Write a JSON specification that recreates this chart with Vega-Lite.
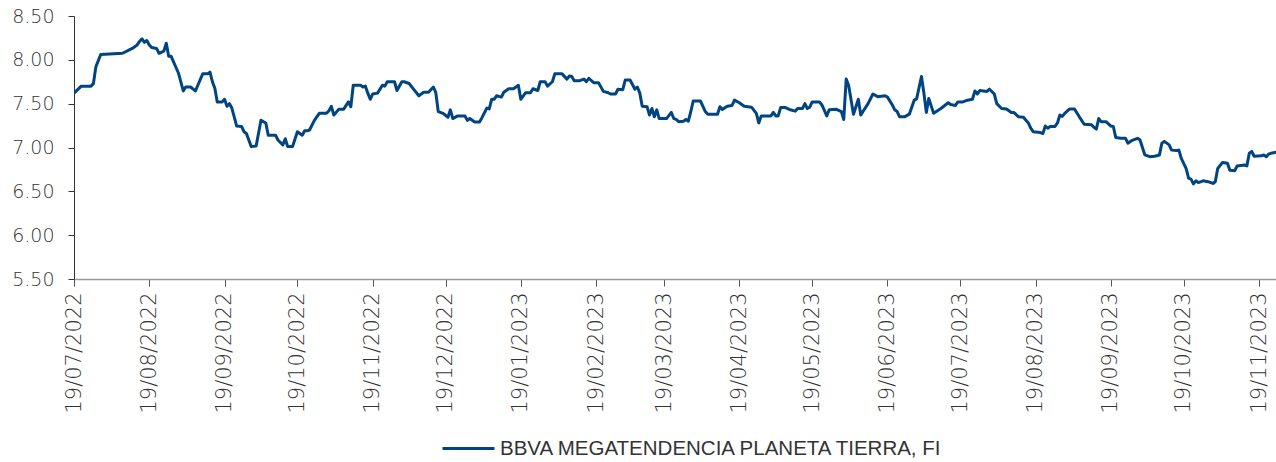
{
  "$schema": "https://vega.github.io/schema/vega-lite/v6.json",
  "autosize": "none",
  "width": 1202,
  "height": 263,
  "padding": {"left": 74, "top": 16, "right": 0, "bottom": 183},
  "background": "white",
  "config": {"view": {"stroke": null}},
  "data": {"values": [
{"d":"2022-07-19","v":7.62},{"d":"2022-07-22","v":7.70},{"d":"2022-07-26","v":7.70},{"d":"2022-07-27","v":7.73},{"d":"2022-07-28","v":7.92},{"d":"2022-07-30","v":8.06},{"d":"2022-08-08","v":8.075},{"d":"2022-08-12","v":8.13},{"d":"2022-08-14","v":8.17},{"d":"2022-08-15","v":8.21},{"d":"2022-08-16","v":8.24},{"d":"2022-08-17","v":8.20},{"d":"2022-08-18","v":8.22},{"d":"2022-08-19","v":8.17},{"d":"2022-08-20","v":8.14},{"d":"2022-08-22","v":8.13},{"d":"2022-08-23","v":8.075},{"d":"2022-08-25","v":8.10},{"d":"2022-08-26","v":8.19},{"d":"2022-08-27","v":8.04},{"d":"2022-08-28","v":8.04},{"d":"2022-08-31","v":7.85},
{"d":"2022-09-02","v":7.645},{"d":"2022-09-03","v":7.69},{"d":"2022-09-05","v":7.69},{"d":"2022-09-07","v":7.645},{"d":"2022-09-08","v":7.71},{"d":"2022-09-10","v":7.84},{"d":"2022-09-12","v":7.84},{"d":"2022-09-13","v":7.86},{"d":"2022-09-14","v":7.75},{"d":"2022-09-15","v":7.675},{"d":"2022-09-16","v":7.52},{"d":"2022-09-18","v":7.52},{"d":"2022-09-19","v":7.55},{"d":"2022-09-20","v":7.47},{"d":"2022-09-21","v":7.50},{"d":"2022-09-22","v":7.45},{"d":"2022-09-24","v":7.245},{"d":"2022-09-26","v":7.24},{"d":"2022-09-27","v":7.18},{"d":"2022-09-28","v":7.16},{"d":"2022-09-30","v":7.01},
{"d":"2022-10-02","v":7.017},{"d":"2022-10-04","v":7.31},{"d":"2022-10-06","v":7.28},{"d":"2022-10-07","v":7.14},{"d":"2022-10-10","v":7.14},{"d":"2022-10-11","v":7.085},{"d":"2022-10-13","v":7.03},{"d":"2022-10-14","v":7.10},{"d":"2022-10-15","v":7.01},{"d":"2022-10-17","v":7.01},{"d":"2022-10-19","v":7.18},{"d":"2022-10-21","v":7.14},{"d":"2022-10-22","v":7.19},{"d":"2022-10-23","v":7.19},{"d":"2022-10-24","v":7.20},{"d":"2022-10-26","v":7.31},{"d":"2022-10-28","v":7.39},{"d":"2022-10-31","v":7.39},
{"d":"2022-11-01","v":7.42},{"d":"2022-11-02","v":7.47},{"d":"2022-11-03","v":7.37},{"d":"2022-11-05","v":7.435},{"d":"2022-11-07","v":7.435},{"d":"2022-11-09","v":7.52},{"d":"2022-11-10","v":7.465},{"d":"2022-11-11","v":7.71},{"d":"2022-11-14","v":7.71},{"d":"2022-11-15","v":7.69},{"d":"2022-11-16","v":7.70},{"d":"2022-11-17","v":7.62},{"d":"2022-11-18","v":7.55},{"d":"2022-11-19","v":7.61},{"d":"2022-11-21","v":7.62},{"d":"2022-11-23","v":7.71},{"d":"2022-11-24","v":7.70},{"d":"2022-11-25","v":7.75},{"d":"2022-11-28","v":7.75},{"d":"2022-11-29","v":7.65},
{"d":"2022-12-01","v":7.75},{"d":"2022-12-02","v":7.75},{"d":"2022-12-04","v":7.73},{"d":"2022-12-06","v":7.66},{"d":"2022-12-08","v":7.59},{"d":"2022-12-10","v":7.63},{"d":"2022-12-12","v":7.63},{"d":"2022-12-14","v":7.69},{"d":"2022-12-15","v":7.625},{"d":"2022-12-16","v":7.41},{"d":"2022-12-18","v":7.39},{"d":"2022-12-20","v":7.345},{"d":"2022-12-21","v":7.43},{"d":"2022-12-22","v":7.33},{"d":"2022-12-24","v":7.36},{"d":"2022-12-27","v":7.36},{"d":"2022-12-28","v":7.31},{"d":"2022-12-29","v":7.33},{"d":"2022-12-31","v":7.29},
{"d":"2023-01-02","v":7.29},{"d":"2023-01-03","v":7.34},{"d":"2023-01-05","v":7.45},{"d":"2023-01-06","v":7.44},{"d":"2023-01-07","v":7.55},{"d":"2023-01-08","v":7.55},{"d":"2023-01-09","v":7.59},{"d":"2023-01-11","v":7.575},{"d":"2023-01-12","v":7.63},{"d":"2023-01-14","v":7.67},{"d":"2023-01-16","v":7.67},{"d":"2023-01-18","v":7.71},{"d":"2023-01-19","v":7.55},{"d":"2023-01-21","v":7.625},{"d":"2023-01-23","v":7.625},{"d":"2023-01-24","v":7.67},{"d":"2023-01-26","v":7.65},{"d":"2023-01-27","v":7.75},{"d":"2023-01-29","v":7.75},{"d":"2023-01-30","v":7.70},
{"d":"2023-02-01","v":7.75},{"d":"2023-02-02","v":7.84},{"d":"2023-02-05","v":7.84},{"d":"2023-02-07","v":7.78},{"d":"2023-02-08","v":7.815},{"d":"2023-02-09","v":7.81},{"d":"2023-02-10","v":7.76},{"d":"2023-02-12","v":7.76},{"d":"2023-02-14","v":7.78},{"d":"2023-02-15","v":7.75},{"d":"2023-02-16","v":7.79},{"d":"2023-02-18","v":7.74},{"d":"2023-02-20","v":7.74},{"d":"2023-02-22","v":7.64},{"d":"2023-02-24","v":7.625},{"d":"2023-02-25","v":7.61},{"d":"2023-02-27","v":7.61},{"d":"2023-02-28","v":7.665},
{"d":"2023-03-02","v":7.66},{"d":"2023-03-03","v":7.77},{"d":"2023-03-05","v":7.77},{"d":"2023-03-07","v":7.665},{"d":"2023-03-08","v":7.69},{"d":"2023-03-09","v":7.62},{"d":"2023-03-10","v":7.47},{"d":"2023-03-12","v":7.465},{"d":"2023-03-13","v":7.37},{"d":"2023-03-14","v":7.445},{"d":"2023-03-15","v":7.35},{"d":"2023-03-16","v":7.43},{"d":"2023-03-17","v":7.33},{"d":"2023-03-20","v":7.33},{"d":"2023-03-22","v":7.40},{"d":"2023-03-23","v":7.33},{"d":"2023-03-24","v":7.32},{"d":"2023-03-25","v":7.295},{"d":"2023-03-27","v":7.30},{"d":"2023-03-28","v":7.32},{"d":"2023-03-29","v":7.30},{"d":"2023-03-30","v":7.41},{"d":"2023-03-31","v":7.53},
{"d":"2023-04-03","v":7.53},{"d":"2023-04-05","v":7.41},{"d":"2023-04-06","v":7.38},{"d":"2023-04-10","v":7.38},{"d":"2023-04-11","v":7.465},{"d":"2023-04-12","v":7.435},{"d":"2023-04-14","v":7.47},{"d":"2023-04-16","v":7.48},{"d":"2023-04-17","v":7.54},{"d":"2023-04-19","v":7.51},{"d":"2023-04-21","v":7.47},{"d":"2023-04-24","v":7.46},{"d":"2023-04-26","v":7.39},{"d":"2023-04-27","v":7.28},{"d":"2023-04-28","v":7.36},
{"d":"2023-05-02","v":7.36},{"d":"2023-05-03","v":7.40},{"d":"2023-05-04","v":7.36},{"d":"2023-05-05","v":7.36},{"d":"2023-05-06","v":7.455},{"d":"2023-05-08","v":7.455},{"d":"2023-05-10","v":7.43},{"d":"2023-05-12","v":7.415},{"d":"2023-05-13","v":7.445},{"d":"2023-05-15","v":7.445},{"d":"2023-05-16","v":7.50},{"d":"2023-05-17","v":7.445},{"d":"2023-05-18","v":7.46},{"d":"2023-05-19","v":7.52},{"d":"2023-05-22","v":7.52},{"d":"2023-05-23","v":7.485},{"d":"2023-05-25","v":7.36},{"d":"2023-05-26","v":7.43},{"d":"2023-05-29","v":7.435},{"d":"2023-05-31","v":7.41},
{"d":"2023-06-01","v":7.32},{"d":"2023-06-02","v":7.78},{"d":"2023-06-03","v":7.71},{"d":"2023-06-05","v":7.38},{"d":"2023-06-06","v":7.465},{"d":"2023-06-07","v":7.55},{"d":"2023-06-08","v":7.37},{"d":"2023-06-11","v":7.50},{"d":"2023-06-13","v":7.61},{"d":"2023-06-15","v":7.58},{"d":"2023-06-18","v":7.59},{"d":"2023-06-19","v":7.575},{"d":"2023-06-21","v":7.485},{"d":"2023-06-22","v":7.43},{"d":"2023-06-23","v":7.41},{"d":"2023-06-24","v":7.35},{"d":"2023-06-26","v":7.35},{"d":"2023-06-28","v":7.38},{"d":"2023-06-30","v":7.54},
{"d":"2023-07-01","v":7.555},{"d":"2023-07-03","v":7.81},{"d":"2023-07-04","v":7.62},{"d":"2023-07-05","v":7.40},{"d":"2023-07-06","v":7.56},{"d":"2023-07-08","v":7.39},{"d":"2023-07-11","v":7.445},{"d":"2023-07-14","v":7.51},{"d":"2023-07-15","v":7.49},{"d":"2023-07-17","v":7.48},{"d":"2023-07-18","v":7.52},{"d":"2023-07-20","v":7.52},{"d":"2023-07-22","v":7.54},{"d":"2023-07-24","v":7.55},{"d":"2023-07-25","v":7.645},{"d":"2023-07-26","v":7.61},{"d":"2023-07-27","v":7.65},{"d":"2023-07-30","v":7.64},{"d":"2023-07-31","v":7.665},
{"d":"2023-08-02","v":7.61},{"d":"2023-08-03","v":7.50},{"d":"2023-08-05","v":7.445},{"d":"2023-08-07","v":7.44},{"d":"2023-08-09","v":7.40},{"d":"2023-08-10","v":7.40},{"d":"2023-08-12","v":7.35},{"d":"2023-08-14","v":7.345},{"d":"2023-08-16","v":7.28},{"d":"2023-08-17","v":7.22},{"d":"2023-08-18","v":7.18},{"d":"2023-08-21","v":7.17},{"d":"2023-08-22","v":7.16},{"d":"2023-08-23","v":7.245},{"d":"2023-08-24","v":7.22},{"d":"2023-08-25","v":7.24},{"d":"2023-08-27","v":7.24},{"d":"2023-08-28","v":7.28},{"d":"2023-08-29","v":7.37},{"d":"2023-08-30","v":7.355},{"d":"2023-08-31","v":7.39},
{"d":"2023-09-02","v":7.44},{"d":"2023-09-04","v":7.44},{"d":"2023-09-06","v":7.35},{"d":"2023-09-08","v":7.265},{"d":"2023-09-11","v":7.26},{"d":"2023-09-12","v":7.23},{"d":"2023-09-13","v":7.21},{"d":"2023-09-14","v":7.33},{"d":"2023-09-15","v":7.295},{"d":"2023-09-17","v":7.295},{"d":"2023-09-19","v":7.245},{"d":"2023-09-20","v":7.24},{"d":"2023-09-21","v":7.115},{"d":"2023-09-23","v":7.105},{"d":"2023-09-25","v":7.105},{"d":"2023-09-26","v":7.05},{"d":"2023-09-28","v":7.085},{"d":"2023-09-30","v":7.105},
{"d":"2023-10-01","v":7.085},{"d":"2023-10-03","v":6.915},{"d":"2023-10-05","v":6.895},{"d":"2023-10-07","v":6.90},{"d":"2023-10-09","v":6.915},{"d":"2023-10-10","v":7.05},{"d":"2023-10-11","v":7.07},{"d":"2023-10-13","v":7.03},{"d":"2023-10-14","v":6.97},{"d":"2023-10-16","v":6.965},{"d":"2023-10-17","v":6.97},{"d":"2023-10-18","v":6.875},{"d":"2023-10-20","v":6.76},{"d":"2023-10-21","v":6.65},{"d":"2023-10-22","v":6.64},{"d":"2023-10-23","v":6.585},{"d":"2023-10-24","v":6.62},{"d":"2023-10-25","v":6.60},{"d":"2023-10-27","v":6.62},{"d":"2023-10-29","v":6.61},{"d":"2023-10-31","v":6.59},
{"d":"2023-11-01","v":6.61},{"d":"2023-11-02","v":6.76},{"d":"2023-11-04","v":6.83},{"d":"2023-11-06","v":6.82},{"d":"2023-11-07","v":6.74},{"d":"2023-11-09","v":6.735},{"d":"2023-11-10","v":6.79},{"d":"2023-11-13","v":6.80},{"d":"2023-11-14","v":6.79},{"d":"2023-11-15","v":6.935},{"d":"2023-11-16","v":6.955},{"d":"2023-11-17","v":6.90},{"d":"2023-11-20","v":6.905},{"d":"2023-11-21","v":6.915},{"d":"2023-11-22","v":6.895},{"d":"2023-11-23","v":6.925},{"d":"2023-11-24","v":6.935},{"d":"2023-11-26","v":6.945}
  ]},
  "mark": {"type": "line", "strokeWidth": 3, "strokeJoin": "round", "strokeCap": "round", "clip": true},
  "encoding": {
    "x": {
      "field": "d", "type": "temporal",
      "scale": {"type": "utc", "domain": [{"year": 2022, "month": 7, "date": 19, "utc": true}, {"year": 2023, "month": 11, "date": 26, "utc": true}], "nice": false},
      "axis": {
        "title": null, "grid": false,
        "labelExpr": "utcFormat(datum.value, '%d/%m/%Y')",
        "values": [
          {"year": 2022, "month": 7, "date": 19, "utc": true},
          {"year": 2022, "month": 8, "date": 19, "utc": true},
          {"year": 2022, "month": 9, "date": 19, "utc": true},
          {"year": 2022, "month": 10, "date": 19, "utc": true},
          {"year": 2022, "month": 11, "date": 19, "utc": true},
          {"year": 2022, "month": 12, "date": 19, "utc": true},
          {"year": 2023, "month": 1, "date": 19, "utc": true},
          {"year": 2023, "month": 2, "date": 19, "utc": true},
          {"year": 2023, "month": 3, "date": 19, "utc": true},
          {"year": 2023, "month": 4, "date": 19, "utc": true},
          {"year": 2023, "month": 5, "date": 19, "utc": true},
          {"year": 2023, "month": 6, "date": 19, "utc": true},
          {"year": 2023, "month": 7, "date": 19, "utc": true},
          {"year": 2023, "month": 8, "date": 19, "utc": true},
          {"year": 2023, "month": 9, "date": 19, "utc": true},
          {"year": 2023, "month": 10, "date": 19, "utc": true},
          {"year": 2023, "month": 11, "date": 19, "utc": true}
        ],
        "labelAngle": -90, "labelFont": "DejaVu Sans", "labelFontSize": 21, "labelFontWeight": 300, "labelColor": "#333333",
        "labelPadding": 6, "labelOverlap": false, "labelFlush": false, "labelLimit": 0,
        "tickSize": 7, "tickColor": "#555555", "tickWidth": 1,
        "domainColor": "#999999", "domainWidth": 1.5
      }
    },
    "y": {
      "field": "v", "type": "quantitative",
      "scale": {"domain": [5.5, 8.5], "nice": false, "zero": false},
      "axis": {
        "title": null, "grid": false,
        "values": [5.5, 6, 6.5, 7, 7.5, 8, 8.5], "format": ".2f",
        "labelFont": "DejaVu Sans", "labelFontSize": 19, "labelFontWeight": 300, "labelColor": "#333333",
        "labelPadding": 14, "labelFlush": false,
        "tickSize": 6, "tickColor": "#333333", "tickWidth": 1,
        "domainColor": "#333333", "domainWidth": 1
      }
    },
    "color": {
      "datum": "BBVA MEGATENDENCIA PLANETA TIERRA, FI",
      "scale": {"range": ["#004481"]},
      "legend": {
        "title": null, "orient": "none", "legendX": 367, "legendY": 405, "direction": "horizontal",
        "symbolType": "stroke", "symbolSize": 2704, "symbolStrokeWidth": 3,
        "labelFont": "Liberation Sans", "labelFontSize": 20.5, "labelColor": "#333333", "labelLimit": 0,
        "labelOffset": 4
      }
    }
  }
}
